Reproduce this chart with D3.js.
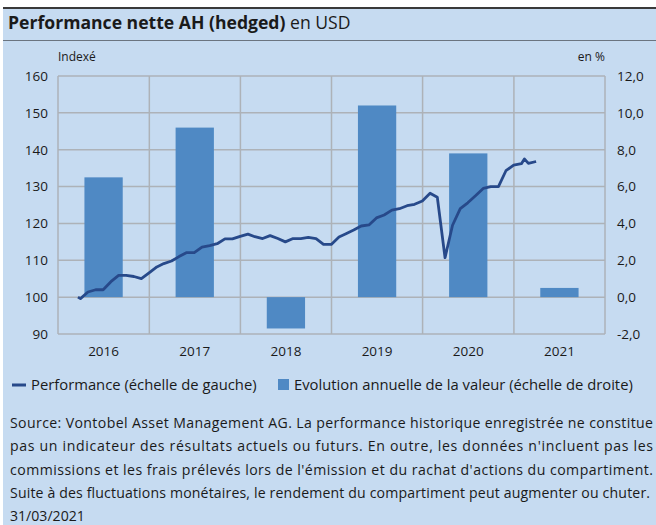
<!DOCTYPE html>
<html>
<head>
<meta charset="utf-8">
<script src="https://cdn.jsdelivr.net/npm/d3@7"></script>
<style>
  body { margin: 0; background: #fff; }
  svg { display: block; font-family: "Open Sans", sans-serif; }
</style>
</head>
<body>
<div id="chart"></div>
<script>
// categories and values
var years = ["2016", "2017", "2018", "2019", "2020", "2021"];
var annualChange = [6.5, 9.2, -1.7, 10.4, 7.8, 0.5];

var perfDates = [
    "2016-03-21", "2016-03-31", "2016-04-30", "2016-05-31", "2016-06-30", "2016-07-31",
    "2016-08-31", "2016-09-30", "2016-10-31", "2016-11-30", "2016-12-31",
    "2017-01-31", "2017-02-28", "2017-03-31", "2017-04-30", "2017-05-31", "2017-06-30",
    "2017-07-31", "2017-08-31", "2017-09-30", "2017-10-31", "2017-11-30", "2017-12-31",
    "2018-01-31", "2018-02-28", "2018-03-31", "2018-04-30", "2018-05-31", "2018-06-30",
    "2018-07-31", "2018-08-31", "2018-09-30", "2018-10-31", "2018-11-30", "2018-12-31",
    "2019-01-31", "2019-02-28", "2019-03-31", "2019-04-30", "2019-05-31", "2019-06-30",
    "2019-07-31", "2019-08-31", "2019-09-30", "2019-10-31", "2019-11-30", "2019-12-31",
    "2020-01-31", "2020-02-29", "2020-03-31", "2020-04-30", "2020-05-31", "2020-06-30",
    "2020-07-31", "2020-08-31", "2020-09-30", "2020-10-31", "2020-11-30", "2020-12-31",
    "2021-01-31", "2021-02-12", "2021-02-28", "2021-03-31"
];
var perfValues = [
    100.0, 99.6, 101.4, 102.0, 102.0, 104.2,
    105.9, 105.9, 105.6, 105.0, 106.6,
    108.2, 109.1, 109.8, 111.0, 112.1, 112.1,
    113.6, 114.0, 114.5, 115.8, 115.8, 116.5,
    117.1, 116.4, 115.9, 116.7, 115.9, 115.0,
    115.9, 115.9, 116.2, 115.9, 114.3, 114.3,
    116.3, 117.2, 118.2, 119.3, 119.6, 121.5,
    122.3, 123.6, 124.0, 124.8, 125.2, 126.1,
    128.2, 127.1, 110.7, 119.5, 124.0, 125.6,
    127.5, 129.5, 130.0, 130.0, 134.3, 135.8,
    136.2, 137.5, 136.3, 136.8
];

var leftTicks = [90, 100, 110, 120, 130, 140, 150, 160];
var rightTicks = [-2, 0, 2, 4, 6, 8, 10, 12];

var footerLines = [
    "Source: Vontobel Asset Management AG. La performance historique enregistrée ne constitue",
    "pas un indicateur des résultats actuels ou futurs. En outre, les données n'incluent pas les",
    "commissions et les frais prélevés lors de l'émission et du rachat d'actions du compartiment.",
    "Suite à des fluctuations monétaires, le rendement du compartiment peut augmenter ou chuter.",
    "31/03/2021"
];

(function () {
    var W = 656, H = 525;
    var bg = "#c6dbf1";
    var barColor = "#4f89c4";
    var lineColor = "#27498a";
    var gridColor = "#adb2b8";
    var textColor = "#1a1a1a";

    var svg = d3.select("#chart").append("svg")
        .attr("width", W)
        .attr("height", H);

    // panel background and title bar
    svg.append("rect").attr("x", 3).attr("y", 8).attr("width", W - 3).attr("height", H - 8).attr("fill", bg);
    svg.append("line").attr("x1", 3).attr("x2", W).attr("y1", 8).attr("y2", 8)
        .attr("stroke", "#3a3a3a").attr("stroke-width", 2);
    svg.append("line").attr("x1", 3).attr("x2", W).attr("y1", 40.5).attr("y2", 40.5)
        .attr("stroke", "#6b7480").attr("stroke-width", 1);

    var title = svg.append("text").attr("x", 8).attr("y", 29)
        .attr("fill", textColor).style("font-size", "17.6px");
    title.append("tspan").attr("font-weight", "bold").text("Performance nette AH (hedged)");
    title.append("tspan").text(" en USD");

    // plot area
    var plotLeft = 58, plotRight = 605, plotTop = 76, plotBottom = 334;

    var x = d3.scaleTime()
        .domain([new Date(2016, 0, 1), new Date(2022, 0, 1)])
        .range([plotLeft, plotRight]);

    var xBand = d3.scaleBand()
        .domain(years)
        .range([plotLeft, plotRight])
        .paddingInner(0.58)
        .paddingOuter(0.29);

    var yLeft = d3.scaleLinear().domain([90, 160]).range([plotBottom, plotTop]);
    var yRight = d3.scaleLinear().domain([-2, 12]).range([plotBottom, plotTop]);

    var g = svg.append("g");

    // horizontal gridlines
    g.selectAll(".hgrid")
        .data(leftTicks)
        .enter().append("line")
        .attr("class", "hgrid")
        .attr("x1", plotLeft).attr("x2", plotRight)
        .attr("y1", function (d) { return yLeft(d); })
        .attr("y2", function (d) { return yLeft(d); })
        .attr("stroke", gridColor).attr("stroke-width", 1.5);

    // vertical gridlines at year boundaries
    var yearStarts = years.map(function (y) { return new Date(+y, 0, 1); }).concat([new Date(2022, 0, 1)]);
    g.selectAll(".vgrid")
        .data(yearStarts)
        .enter().append("line")
        .attr("class", "vgrid")
        .attr("x1", function (d) { return x(d); })
        .attr("x2", function (d) { return x(d); })
        .attr("y1", plotTop).attr("y2", plotBottom)
        .attr("stroke", gridColor).attr("stroke-width", 1.5);

    // bars (right scale)
    g.selectAll(".bar")
        .data(annualChange)
        .enter().append("rect")
        .attr("class", "bar")
        .attr("x", function (d, i) { return xBand(years[i]); })
        .attr("width", xBand.bandwidth())
        .attr("y", function (d) { return yRight(Math.max(0, d)); })
        .attr("height", function (d) { return Math.abs(yRight(d) - yRight(0)); })
        .attr("fill", barColor);

    // performance line (left scale)
    var parse = d3.timeParse("%Y-%m-%d");
    var perf = perfDates.map(function (d, i) { return { date: parse(d), value: perfValues[i] }; });

    g.append("path")
        .datum(perf)
        .attr("fill", "none")
        .attr("stroke", lineColor)
        .attr("stroke-width", 2.8)
        .attr("stroke-linejoin", "round")
        .attr("d", d3.line()
            .x(function (d) { return x(d.date); })
            .y(function (d) { return yLeft(d.value); }));

    // axes
    var frLocale = d3.formatLocale({ decimal: ",", thousands: " ", grouping: [3], currency: ["", " €"], minus: "-" });

    var axisL = svg.append("g")
        .attr("transform", "translate(" + plotLeft + ",0)")
        .call(d3.axisLeft(yLeft).tickValues(leftTicks).tickSize(0).tickPadding(10));

    var axisR = svg.append("g")
        .attr("transform", "translate(" + plotRight + ",0)")
        .call(d3.axisRight(yRight).tickValues(rightTicks).tickSize(0).tickPadding(12)
            .tickFormat(frLocale.format(".1f")));

    var axisB = svg.append("g")
        .attr("transform", "translate(0," + plotBottom + ")")
        .call(d3.axisBottom(xBand).tickSize(0).tickPadding(12));

    [axisL, axisR, axisB].forEach(function (a) {
        a.select(".domain").remove();
        a.selectAll("text").attr("fill", textColor).style("font-size", "13.5px").style("font-family", "'Open Sans', sans-serif");
    });

    svg.append("text").attr("x", plotLeft).attr("y", 61).attr("fill", textColor)
        .style("font-size", "12px").text("Indexé");
    svg.append("text").attr("x", plotRight).attr("y", 61).attr("text-anchor", "end").attr("fill", textColor)
        .style("font-size", "12px").text("en %");

    // legend
    svg.append("line").attr("x1", 12).attr("x2", 26).attr("y1", 385).attr("y2", 385)
        .attr("stroke", lineColor).attr("stroke-width", 3);
    svg.append("text").attr("x", 31).attr("y", 390).attr("fill", textColor)
        .style("font-size", "14.8px").text("Performance (échelle de gauche)");
    svg.append("rect").attr("x", 278).attr("y", 379).attr("width", 11).attr("height", 11).attr("fill", barColor);
    svg.append("text").attr("x", 294).attr("y", 390).attr("fill", textColor)
        .style("font-size", "14.8px").text("Evolution annuelle de la valeur (échelle de droite)");

    // footer, justified like the original block
    var footerWidths = [643, 643, 643, 640, null];
    svg.selectAll(".foot")
        .data(footerLines)
        .enter().append("text")
        .attr("class", "foot")
        .attr("x", 10)
        .attr("y", function (d, i) { return 428 + i * 23.3; })
        .attr("fill", textColor)
        .style("font-size", "14.1px")
        .each(function (d, i) {
            if (footerWidths[i]) {
                d3.select(this).attr("textLength", footerWidths[i]).attr("lengthAdjust", "spacing");
            }
        })
        .text(function (d) { return d; });
})();
</script>
</body>
</html>
